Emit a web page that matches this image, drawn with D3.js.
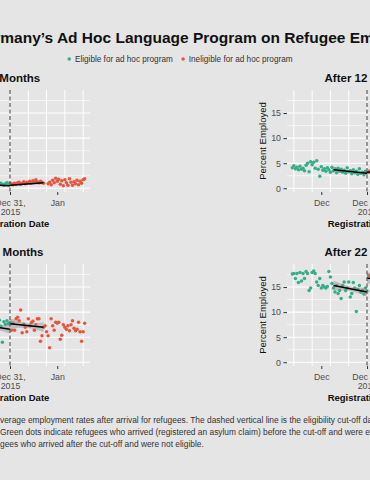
<!DOCTYPE html>
<html>
<head>
<meta charset="utf-8">
<script src="https://cdn.jsdelivr.net/npm/d3@7"></script>
<style>
  body { margin: 0; background: #e5e5e5; }
  svg { display: block; }
</style>
</head>
<body>
<svg id="chart" width="370" height="480"></svg>
<script>
// ---- data (days are counted from the Dec 31, 2015 cut-off) ----
const chartTitle = "Effect of Germany\u2019s Ad Hoc Language Program on Refugee Employment"
const legendLabels = ["Eligible for ad hoc program", "Ineligible for ad hoc program"]
const panelTitles = ["After 7 Months", "After 12 Months", "After 17 Months", "After 22 Months"]
const yTicks = [0, 5, 10, 15]
const yMinor = [2.5, 7.5, 12.5, 17.5]
const gridDays = [-48, -36, -24, -12, 0, 12, 24, 36, 48]
const xTickDays = [-30, 0, 31]
const xTickLabels = ["Dec", "Dec 31,\n2015", "Jan"]
const captionLines = [
  "Figure 2: Regression discontinuity plots of average employment rates after arrival for refugees. The dashed vertical line is the eligibility cut-off date (December 31, 2015).",
  "(registration date). Green dots indicate refugees who arrived (registered an asylum claim) before the cut-off and were eligible for the program, while red",
  "dots indicate the refugees who arrived after the cut-off and were not eligible."
]
const captionCuts = ["verage", "Green", "gees"]

// After 7 months
const m7EligStart = -8
const m7Elig = [0.9, 0.7, 1.0, 0.8, 0.6, 0.9, 1.1, 0.8, 1.0]
const m7InelStart = 1
const m7Inel = [0.9, 0.7, 1.0, 0.8, 1.1, 1.2, 0.8, 1.0, 1.3, 0.9, 1.2, 1.1, 1.4, 1.0, 1.5, 1.2, 1.7, 1.3, 1.1, 1.4, 1.2, 1.0,
  null, null, 0.9, 1.2, 0.7, 1.6, 1.1, 2.0, 1.4, 1.8, 0.8, 1.5, 0.5, 1.7, 1.1, 0.6, 1.9, 1.2, 0.6, 1.3, 0.9, 1.6, 0.7, 1.4, 1.0, 1.7, 1.9]
const m7FitElig = [-22, 0.8, 0, 0.5]
const m7FitInel = [0, 0.6, 22, 1.1]
const m7BandElig = [0.3, 0.15, 0.25]
const m7BandInel = [0.25, 0.15, 0.3]

// After 12 months
const m12EligStart = -49
const m12Elig = [4.1, 4.5, 3.9, 4.2, 3.7, 4.4, 3.8, 4.0, 3.5, 4.6, 5.0, 3.3, 5.3, 4.7, 5.2, 4.0, 5.5, 3.8, 2.4, 4.3,
  3.6, 3.9, 3.4, 4.1, 3.7, 3.2, 4.2, 3.5, 3.9, 3.1, 4.0, 3.4, 3.8, 3.2, 3.6, 3.0, 4.1, 3.3, 3.5, 2.9,
  3.7, 3.1, 3.4, 2.8, 3.9, 3.0, 3.2, 2.7, 3.4, 3.1]
const m12InelStart = 1
const m12Inel = [3.2, 3.5]
const m12FitElig = [-22, 3.7, 0, 3.0]
const m12FitInel = [0, 3.2, 22, 3.6]
const m12BandElig = [0.3, 0.15, 0.3]
const m12BandInel = [0.3, 0.15, 0.3]

// After 17 months
const m17EligStart = -8
const m17Elig = [7.9, 8.4, 7.2, 4.0, 8.1, 7.6, 8.3, 7.7, 8.0]
const m17InelStart = 1
const m17Inel = [6.4, 7.8, 6.4, 8.7, 9.0, 8.3, 10.4, 5.9, 7.6, 7.0, 6.1, 8.7, 7.3, 7.9, 8.2, 6.4, 7.5, 8.7, 8.7, 4.2,
  5.3, 7.0, 7.3, 6.1, 5.3, 2.9, 8.7, 7.3, 6.4, 8.0, 7.8, 8.0, 4.6, 5.4, 7.5, 7.0, 6.6, 7.3, 6.3, 7.5,
  8.3, 6.8, 6.3, 6.6, 8.0, 6.1, 4.2, 6.1, 7.8]
const m17FitElig = [-22, 7.6, 0, 6.6]
const m17FitInel = [0, 7.7, 22, 7.0]
const m17BandElig = [1.0, 0.5, 0.9]
const m17BandInel = [1.1, 0.5, 1.0]

// After 22 months
const m22EligStart = -49
const m22Elig = [17.6, 17.7, 16.7, 17.7, 15.9, 17.9, 16.2, 17.7, 16.7, 18.1, 17.7, 14.3, 14.8, 17.9, 18.2, 17.7, 16.0, 15.3, 16.7, 14.8,
  15.3, 15.0, 14.8, 15.1, 18.1, 17.0, 15.7, 14.8, 14.0, 15.3, 13.7, 14.3, 12.7, 15.3, 16.0, 14.3, 14.8, 16.0, 13.0, 13.7,
  15.9, 14.8, 10.1, 14.5, 15.3, 14.0, 14.3, 13.6, 14.8, 14.2]
const m22InelStart = 1
const m22Inel = [17.3]
const m22FitElig = [-22, 15.3, 0, 14.0]
const m22FitInel = [0, 16.8, 22, 16.0]
const m22BandElig = [1.0, 0.45, 0.9]
const m22BandInel = [1.2, 0.6, 1.2]

// ---- layout ----
const W = 370, H = 480
const FONT = "'Liberation Sans', Arial, Helvetica, sans-serif"
const GREEN = "#35ae88", RED = "#e8553f"
const cols = [{left: -70, right: 90, titleX: 0}, {left: 287, right: 447, titleX: 368}]
const rows = [{top: 90, bottom: 192}, {top: 264, bottom: 366}]

const panels = [
  {row: 0, col: 0, eligStart: m7EligStart, elig: m7Elig, inelStart: m7InelStart, inel: m7Inel,
    fitE: m7FitElig, fitI: m7FitInel, bandE: m7BandElig, bandI: m7BandInel},
  {row: 0, col: 1, eligStart: m12EligStart, elig: m12Elig, inelStart: m12InelStart, inel: m12Inel,
    fitE: m12FitElig, fitI: m12FitInel, bandE: m12BandElig, bandI: m12BandInel},
  {row: 1, col: 0, eligStart: m17EligStart, elig: m17Elig, inelStart: m17InelStart, inel: m17Inel,
    fitE: m17FitElig, fitI: m17FitInel, bandE: m17BandElig, bandI: m17BandInel},
  {row: 1, col: 1, eligStart: m22EligStart, elig: m22Elig, inelStart: m22InelStart, inel: m22Inel,
    fitE: m22FitElig, fitI: m22FitInel, bandE: m22BandElig, bandI: m22BandInel}
]

const svg = d3.select("#chart").attr("font-family", FONT)
svg.append("rect").attr("width", W).attr("height", H).attr("fill", "#e5e5e5")

// title, positioned so the visible part lines up with the source crop
const title = svg.append("text")
  .attr("y", 43)
  .attr("font-size", 15.5)
  .attr("font-weight", "bold")
  .attr("fill", "#111")
  .text(chartTitle)
title.attr("x", 0.3 - title.node().getSubStringLength(0, chartTitle.indexOf("many")))

// legend
const legend = svg.append("g").attr("class", "legend").attr("transform", "translate(0, 59)")
let lx = 0
legendLabels.forEach((label, i) => {
  legend.append("circle").attr("cx", lx + 1.8).attr("cy", 0).attr("r", 1.8)
    .attr("fill", i === 0 ? GREEN : RED)
  const t = legend.append("text").attr("x", lx + 7.5).attr("y", 2.9)
    .attr("font-size", 8.2).attr("fill", "#333").text(label)
  lx += 7.5 + t.node().getComputedTextLength() + 8.5
})
legend.attr("transform", "translate(" + (180 - (lx - 8.5) / 2) + ", 59)")

function points(start, values) {
  return values.map((v, i) => ({day: start + i, value: v})).filter(d => d.value != null)
}

function drawPanel(p, i) {
  const col = cols[p.col], row = rows[p.row]
  const x = d3.scaleLinear().domain([-52.5, 52.5]).range([col.left, col.right])
  const y = d3.scaleLinear().domain([-0.75, 19.6]).range([row.bottom, row.top])
  const g = svg.append("g").attr("class", "panel")

  g.append("rect")
    .attr("x", col.left).attr("y", row.top)
    .attr("width", col.right - col.left).attr("height", row.bottom - row.top)
    .attr("fill", "#e5e5e5")

  // grid
  g.selectAll(".minor").data(yMinor).enter().append("line")
    .attr("x1", col.left).attr("x2", col.right)
    .attr("y1", d => y(d)).attr("y2", d => y(d))
    .attr("stroke", "#fff").attr("stroke-width", 0.6)
  g.selectAll(".major").data(yTicks).enter().append("line")
    .attr("x1", col.left).attr("x2", col.right)
    .attr("y1", d => y(d)).attr("y2", d => y(d))
    .attr("stroke", "#fff").attr("stroke-width", 1.1)
  g.selectAll(".vgrid").data(gridDays).enter().append("line")
    .attr("x1", d => x(d)).attr("x2", d => x(d))
    .attr("y1", row.top).attr("y2", row.bottom)
    .attr("stroke", "#fff").attr("stroke-width", 1)

  // points
  g.append("g").selectAll("circle").data(points(p.eligStart, p.elig)).enter().append("circle")
    .attr("cx", d => x(d.day)).attr("cy", d => y(d.value)).attr("r", 1.75)
    .attr("fill", GREEN)
  g.append("g").selectAll("circle").data(points(p.inelStart, p.inel)).enter().append("circle")
    .attr("cx", d => x(d.day)).attr("cy", d => y(d.value)).attr("r", 1.75)
    .attr("fill", RED)

  // local linear fits with confidence bands
  ;[[p.fitE, p.bandE], [p.fitI, p.bandI]].forEach(([fit, band]) => {
    const mid = (fit[0] + fit[2]) / 2
    const val = d => fit[1] + (fit[3] - fit[1]) * (d - fit[0]) / (fit[2] - fit[0])
    const bandPts = [[fit[0], band[0]], [mid, band[1]], [fit[2], band[2]]]
    g.append("path")
      .datum(bandPts)
      .attr("d", d3.area().curve(d3.curveNatural)
        .x(d => x(d[0]))
        .y0(d => y(val(d[0]) - d[1]))
        .y1(d => y(val(d[0]) + d[1])))
      .attr("fill", "#8c8c8c").attr("fill-opacity", 0.45)
    g.append("line")
      .attr("x1", x(fit[0])).attr("y1", y(fit[1]))
      .attr("x2", x(fit[2])).attr("y2", y(fit[3]))
      .attr("stroke", "#000").attr("stroke-width", 1.5)
  })

  // cut-off
  g.append("line")
    .attr("x1", x(0)).attr("x2", x(0))
    .attr("y1", row.top).attr("y2", row.bottom)
    .attr("stroke", "#555").attr("stroke-width", 1.2)
    .attr("stroke-dasharray", "4,2.5")

  // axes
  const yAxis = g.append("g")
    .attr("transform", "translate(" + col.left + ",0)")
    .call(d3.axisLeft(y).tickValues(yTicks).tickSize(3.5).tickPadding(2.5))
    .attr("font-family", FONT)
  yAxis.select(".domain").remove()
  yAxis.selectAll("line").attr("stroke", "#333")
  yAxis.selectAll("text").attr("font-size", 8.8).attr("fill", "#4d4d4d")

  const xAxis = g.append("g")
    .attr("transform", "translate(0," + row.bottom + ")")
    .call(d3.axisBottom(x).tickValues(xTickDays).tickSize(3).tickPadding(4.5))
    .attr("font-family", FONT)
  xAxis.select(".domain").remove()
  xAxis.selectAll("line").attr("stroke", "#333")
  xAxis.selectAll("text").attr("dy", null).attr("font-size", 8.8).attr("fill", "#4d4d4d")
    .each(function(d, k) {
      const t = d3.select(this).text(null)
      xTickLabels[k].split("\n").forEach((line, n) => {
        t.append("tspan").attr("x", 0).attr("dy", n === 0 ? "0.71em" : "1.1em").text(line)
      })
    })

  g.append("text")
    .attr("x", (col.left + col.right) / 2).attr("y", row.bottom + 34.5)
    .attr("text-anchor", "middle").attr("font-size", 9.5).attr("font-weight", "bold")
    .attr("fill", "#111").text("Registration Date")
  g.append("text")
    .attr("transform", "translate(" + (col.left - 21.5) + "," + ((row.top + row.bottom) / 2) + ") rotate(-90)")
    .attr("text-anchor", "middle").attr("font-size", 9.5)
    .attr("fill", "#111").text("Percent Employed")
  g.append("text")
    .attr("x", col.titleX).attr("y", row.top - 8)
    .attr("text-anchor", "middle").attr("font-size", 11.5).attr("font-weight", "bold")
    .attr("fill", "#111").text(panelTitles[i])
}

panels.forEach(drawPanel)

// caption
captionLines.forEach((line, i) => {
  const t = svg.append("text")
    .attr("y", 423 + i * 11.8)
    .attr("font-size", 8.4)
    .attr("fill", "#333")
    .text(line)
  t.attr("x", -t.node().getSubStringLength(0, line.indexOf(captionCuts[i])))
})
</script>
</body>
</html>
